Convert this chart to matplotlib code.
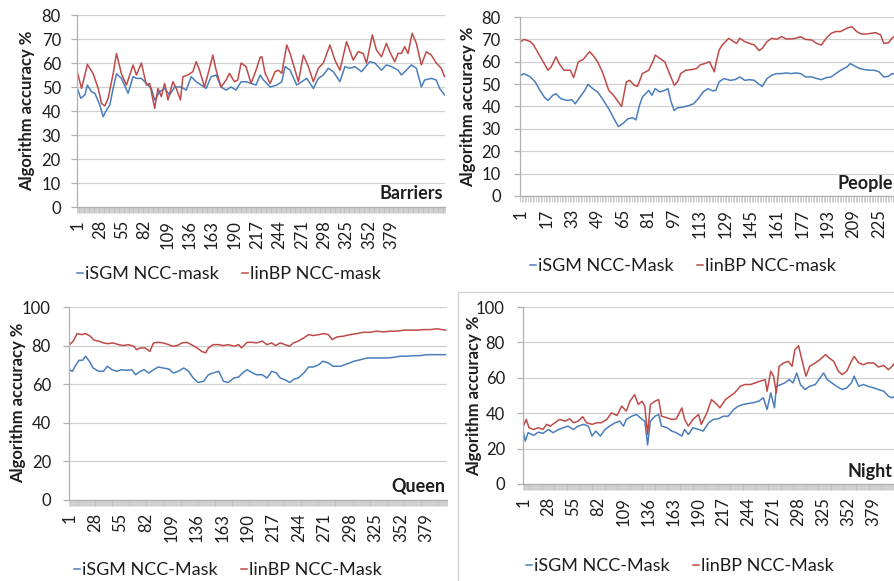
import matplotlib
matplotlib.use("Agg")
import numpy as np
import matplotlib.pyplot as plt
from matplotlib.lines import Line2D

plt.rcParams['font.family'] = ['Lato', 'DejaVu Sans']

# ==========================================================
# DATA  (frame index, algorithm accuracy %)
# ==========================================================
barriers_n = 443
barriers_isgm_f = [1, 5, 10, 13, 18, 22, 28, 32, 36, 40, 44, 48, 54, 62, 68, 72, 78, 84, 90, 94,
                   100, 106, 112, 118, 126, 132, 138, 144, 150, 156, 162, 168, 174, 180, 186, 192,
                   198, 204, 210, 216, 221, 225, 233, 241, 247, 251, 257, 265, 271, 277, 285, 291,
                   297, 303, 309, 317, 323, 329, 335, 343, 353, 359, 367, 373, 379, 387, 391, 397,
                   403, 409, 415, 419, 427, 433, 437, 443]
barriers_isgm = [49.4, 45.3, 46.7, 50.8, 48, 47.4, 42.5, 37.6, 40.4, 42.5, 49.4, 55.5, 53.6, 47.4,
                 54.3, 53.6, 53.6, 51.5, 49.4, 44.6, 48, 49.4, 46.7, 50, 50, 48.7, 54.3, 52.2, 50.8,
                 49.4, 54.3, 55, 50, 48.7, 50, 48.7, 52.2, 52.2, 51.5, 50.8, 55, 52.9, 50, 50.8,
                 52.2, 58.5, 57, 50.8, 52.2, 53.6, 49.4, 53.6, 55, 57.8, 56.4, 52.2, 58.5, 57.8,
                 58.5, 56.4, 60.6, 60, 57, 59.2, 58.5, 57, 55, 57, 59.2, 57.8, 50, 52.9, 53.6,
                 52.9, 49.4, 46.7]
barriers_linbp_f = [1, 6, 13, 20, 26, 30, 34, 38, 44, 48, 54, 60, 68, 72, 78, 84, 88, 94, 98, 102,
                    106, 110, 116, 120, 125, 128, 134, 140, 144, 148, 154, 160, 164, 168, 174, 180,
                    184, 190, 194, 198, 204, 210, 216, 221, 223, 227, 233, 239, 243, 247, 253, 257,
                    263, 267, 273, 279, 285, 291, 297, 305, 311, 317, 325, 333, 339, 345, 349, 356,
                    361, 367, 373, 377, 383, 387, 391, 395, 399, 404, 409, 415, 421, 427, 433, 439, 443]
barriers_linbp = [56, 49.4, 59.4, 55.5, 49.4, 43.2, 42.1, 45.3, 55.5, 64, 55.5, 50.8, 59.2, 55, 60,
                  50.8, 51.5, 41.1, 49.4, 46, 51.5, 44.6, 52.2, 49.4, 44.6, 54.3, 55, 56.4, 60.6,
                  57, 50, 57.8, 63.3, 57, 50, 52.9, 55.7, 52.2, 52.9, 60, 58.5, 51.5, 57, 62.4,
                  62.6, 55.7, 51.5, 56.4, 57, 55.7, 67.5, 64, 57, 52.2, 63.3, 58.5, 52.2, 57.8, 60,
                  67.5, 61.2, 57, 68.9, 61.2, 64.7, 64, 60, 71.7, 65.4, 62.6, 68.2, 64.7, 60.5, 64,
                  64, 66.8, 64, 72.4, 68.2, 59.2, 64.7, 63.3, 60, 57.8, 54.3]

people_n = 237
people_isgm_f = [1, 3, 7, 10, 13, 16, 18, 21, 23, 26, 30, 33, 35, 38, 41, 43, 46, 49, 52, 56, 59,
                 62, 65, 68, 71, 73, 75, 77, 81, 83, 85, 88, 91, 93, 95, 97, 99, 102, 106, 109,
                 112, 115, 118, 121, 123, 125, 128, 132, 135, 138, 141, 144, 147, 150, 152, 155,
                 158, 161, 164, 167, 170, 173, 176, 179, 183, 186, 189, 192, 195, 198, 201, 205,
                 207, 210, 213, 216, 219, 222, 225, 228, 231, 233, 235]
people_isgm = [54, 54.7, 53.2, 51, 47.2, 43.9, 42.7, 45, 45.7, 43.5, 42.7, 43, 41.2, 44.2, 47.2,
               49.9, 48, 46.5, 43.5, 39, 34.9, 31, 32.5, 34.5, 35, 34, 40, 44.2, 47.2, 45, 48,
               46.5, 47.2, 48, 42, 38.2, 39.4, 39.7, 40.4, 41.2, 43.5, 46.5, 48, 47, 47.2, 51,
               52.5, 51.7, 52, 53.2, 51.7, 52, 51.7, 49.9, 49, 52.5, 54, 54.7, 54.7, 55, 54.7, 55,
               54.7, 53.2, 53.2, 52.5, 52, 52.9, 53.2, 54.7, 56.2, 57.7, 59.2, 58, 57, 56.5, 56.2,
               56.2, 55.5, 53.2, 53.5, 54.7, 54.4]
people_linbp_f = [1, 3, 7, 9, 12, 15, 18, 20, 23, 25, 28, 32, 34, 37, 40, 44, 46, 49, 52, 56, 59,
                  62, 64, 67, 69, 72, 74, 77, 81, 84, 85, 88, 91, 94, 97, 99, 101, 104, 108, 111,
                  113, 116, 119, 122, 123, 125, 127, 131, 134, 136, 138, 141, 144, 147, 150, 152,
                  155, 158, 161, 164, 167, 170, 173, 176, 179, 183, 186, 189, 192, 195, 198, 201,
                  205, 208, 211, 214, 217, 220, 223, 226, 228, 231, 233, 235]
people_linbp = [69, 70, 69, 67.5, 63.7, 60, 56.2, 57.7, 62.2, 59.2, 56.2, 56.2, 52.9, 60, 61, 64.5,
                63, 60, 55.5, 47.2, 45, 42, 40, 51, 51.7, 49.5, 49, 54.7, 56.2, 60.7, 63, 61.5,
                60, 54.7, 49.5, 51, 54.7, 56.2, 56.5, 57, 58.5, 59.2, 60, 55.5, 59.2, 65.2, 67.5,
                70.5, 69, 68.2, 70.5, 69, 68.2, 67.5, 65, 66, 69, 70.5, 70, 71.2, 70.2, 70.2, 70.5,
                71.2, 70, 69.7, 68.2, 67.5, 70.5, 72.7, 73.5, 73.5, 75, 75.7, 73.5, 72.4, 72.4,
                72.7, 73, 72, 68.2, 68.5, 70.5, 71.5]

queen_n = 400
queen_isgm_f = [1, 4, 8, 11, 15, 18, 22, 26, 32, 37, 41, 46, 51, 56, 62, 67, 71, 76, 80, 85, 90,
                95, 100, 106, 111, 116, 122, 127, 132, 137, 143, 148, 153, 159, 164, 169, 175, 180,
                184, 189, 195, 199, 205, 210, 215, 220, 224, 229, 234, 239, 243, 249, 254, 259,
                265, 269, 275, 280, 288, 295, 302, 309, 316, 323, 330, 337, 344, 351, 358, 365,
                372, 379, 386, 393, 399]
queen_isgm = [67.5, 66.7, 70.1, 72.4, 72.4, 74.5, 71.9, 68.4, 66.7, 66.7, 69.3, 67.5, 66.7, 67.5,
              67.2, 67.5, 64.9, 66.7, 67.5, 65.8, 67.5, 68.9, 68.4, 67.9, 65.8, 66.7, 68.4, 66.7,
              63.2, 60.9, 61.5, 64.9, 65.8, 66.7, 61.5, 60.9, 63.2, 63.7, 65.8, 67.5, 65.8, 64.9,
              64.9, 63.2, 66.7, 65.8, 63.2, 62.3, 60.9, 62.7, 63.2, 65.8, 68.9, 68.9, 70.1, 71.9,
              71, 69.3, 69.3, 70.6, 71.9, 72.7, 73.6, 73.6, 73.6, 73.6, 73.9, 74.5, 74.5, 74.8,
              74.8, 75.3, 75.3, 75.3, 75.3]
queen_linbp_f = [1, 5, 9, 14, 18, 23, 27, 32, 37, 42, 47, 53, 58, 63, 69, 72, 76, 81, 86, 90, 95,
                 100, 106, 110, 115, 120, 125, 130, 136, 141, 145, 148, 153, 159, 164, 169, 175,
                 180, 183, 189, 194, 199, 205, 210, 215, 219, 224, 229, 234, 238, 243, 249, 254,
                 259, 265, 270, 275, 279, 284, 291, 298, 305, 312, 319, 326, 333, 341, 348, 355,
                 362, 369, 376, 383, 390, 399]
queen_linbp = [80.5, 82.3, 86.2, 85.7, 86.2, 84.9, 82.8, 82.3, 81.4, 81, 81.4, 80.5, 80, 80.5,
               79.7, 77.9, 78.8, 78.8, 77, 81.4, 81.7, 81.4, 80.5, 79.7, 80, 81.4, 81.7, 80.5,
               78.8, 77, 76.2, 78.8, 80.5, 80.5, 80, 80.5, 79.7, 80.5, 78.8, 81.7, 81.7, 81.4,
               82.3, 80.5, 81.4, 80, 81.4, 80.5, 79.7, 81.4, 82.3, 84, 85.7, 85.2, 85.7, 86.2,
               85.7, 83.1, 84.5, 84.9, 85.7, 86.2, 86.9, 86.9, 87.5, 87.1, 87.5, 87.5, 88, 88, 88,
               88.3, 88.3, 88.7, 88]

night_n = 407
night_isgm_f = [1, 3, 6, 12, 17, 22, 28, 33, 39, 44, 49, 55, 60, 66, 71, 75, 79, 84, 89, 94, 100,
                105, 109, 112, 118, 123, 129, 132, 135, 138, 143, 147, 150, 156, 161, 166, 172,
                175, 179, 184, 190, 195, 201, 206, 211, 217, 222, 228, 233, 238, 244, 249, 255,
                260, 264, 268, 272, 274, 279, 283, 288, 292, 296, 300, 305, 310, 316, 320, 325,
                329, 334, 339, 345, 350, 355, 358, 363, 368, 373, 379, 384, 390, 395, 399, 402]
night_isgm = [29, 24.3, 29, 27.5, 29.3, 28.6, 30.8, 29, 30.8, 31.8, 32.7, 30.8, 32.7, 33.7, 32.7,
              27.1, 29.9, 27.1, 30.8, 32.7, 34.6, 35.5, 32.7, 36.5, 38.3, 39.3, 36.5, 35.5, 22,
              35.5, 38.3, 39.3, 32.7, 31.8, 29.9, 29, 27.1, 30.8, 28, 31.8, 30.8, 29.9, 34.6,
              36.5, 36.8, 38.3, 38.3, 42.1, 44, 44.9, 45.5, 45.9, 46.8, 48.7, 42.1, 51.5, 43,
              55.2, 56.2, 57.1, 59, 57.1, 62.7, 56.2, 53.4, 55.2, 56.2, 59, 62.7, 59, 57.1, 55.2,
              53.4, 54.3, 57.1, 60.9, 55.2, 56.2, 55.2, 54.3, 53.4, 52.4, 49.6, 48.7, 49.6]
night_linbp_f = [1, 4, 7, 12, 17, 22, 26, 30, 35, 40, 46, 51, 55, 60, 65, 69, 75, 80, 85, 91, 96,
                 102, 107, 112, 116, 121, 125, 129, 132, 135, 138, 143, 147, 150, 156, 161, 166,
                 172, 175, 179, 184, 190, 193, 199, 204, 210, 213, 219, 224, 229, 235, 240, 246,
                 251, 256, 262, 264, 268, 271, 274, 277, 282, 287, 291, 294, 298, 302, 306, 310,
                 316, 321, 327, 331, 336, 341, 345, 350, 355, 358, 363, 368, 373, 379, 384, 390,
                 395, 399, 402]
night_linbp = [32.7, 36.5, 31.8, 30.8, 31.8, 30.8, 33.7, 32.7, 34.6, 36.5, 35.5, 36.8, 34.6, 35.5,
               38, 34.6, 33.7, 34.6, 34.6, 36.5, 40.2, 38.7, 44, 41.2, 46.8, 50.5, 44.9, 46.8, 44,
               28, 44.9, 46.8, 47.7, 38.3, 37.4, 36.5, 36.8, 43, 36.5, 32.7, 36.5, 39.3, 33.7,
               40.2, 47.7, 44.9, 43, 47.7, 49.6, 51.5, 55.2, 56.2, 56.2, 57.1, 58, 59, 52.4, 63.7,
               60.9, 51.5, 66.5, 68.4, 69.3, 66.5, 75.9, 78.1, 69.3, 60.9, 66.5, 68.4, 70.2, 73.1,
               71.2, 69.3, 63.7, 61.8, 63.7, 69.3, 72.1, 68.4, 67.4, 68.4, 68.4, 66.1, 66.9, 64.6,
               66.5, 68.4]

ticks_27 = [1, 28, 55, 82, 109, 136, 163, 190, 217, 244, 271, 298, 325, 352, 379]
ticks_16 = [1, 17, 33, 49, 65, 81, 97, 113, 129, 145, 161, 177, 193, 209, 225]

# ==========================================================
# STYLE
# ==========================================================
W, H = 895, 581
BLUE = '#4a7ebb'
RED = '#be4b48'
GRID = '#d0d0d0'
AXIS = '#b0b0b0'
TXT = '#1e1e1e'


def rect(l, t, r, b):
    # pixel box (left, top, right, bottom) -> figure fraction
    return [l / W, 1 - b / H, (r - l) / W, (b - t) / H]


def draw_panel(box, n, ymax, ystep, xticks, isgm, linbp, title, labels,
               ylabel_xy, legend_xy, ypad):
    ax = fig.add_axes(rect(*box))
    ax.plot(isgm[0], isgm[1], color=BLUE, lw=1.1)
    ax.plot(linbp[0], linbp[1], color=RED, lw=1.1)
    ax.set_xlim(0.5, n + 0.5)
    ax.set_ylim(0, ymax)
    ax.set_yticks(np.arange(0, ymax + 1, ystep))
    ax.yaxis.grid(True, color=GRID, lw=0.9)
    ax.set_axisbelow(True)
    for s in ['top', 'right']:
        ax.spines[s].set_visible(False)
    for s in ['left', 'bottom']:
        ax.spines[s].set_color(AXIS)
        ax.spines[s].set_linewidth(0.9)

    # category axis: label every k-th frame, tick mark at every boundary
    ax.set_xticks(xticks)
    ax.set_xticklabels([str(t) for t in xticks], rotation=90)
    ax.set_xticks(np.arange(0.5, n + 1, 1), minor=True)
    ax.tick_params(axis='x', which='major', length=0, pad=9.4, labelsize=12, labelcolor=TXT)
    ax.tick_params(axis='x', which='minor', length=4.4, width=0.5, color='#bcbcbc')
    ax.tick_params(axis='y', length=4.4, width=0.9, color=AXIS, pad=ypad,
                   labelsize=12, labelcolor=TXT)

    # series name in the lower right corner, kept inside the figure
    title_x = min(box[2] - 2, W - 2)
    fig.text(title_x / W, 1 - (box[3] - 0.072 * (box[3] - box[1])) / H, title,
             ha='right', va='center', fontsize=13, fontweight='bold', color=TXT)

    fig.text(ylabel_xy[0] / W, 1 - ylabel_xy[1] / H, 'Algorithm accuracy %',
             rotation=90, ha='center', va='center', fontsize=12,
             fontweight='bold', color=TXT)

    handles = [Line2D([], [], color=BLUE, lw=1.1), Line2D([], [], color=RED, lw=1.1)]
    fig.legend(handles, labels, loc='center', ncol=2, frameon=False,
               bbox_to_anchor=(legend_xy[0] / W, 1 - legend_xy[1] / H),
               bbox_transform=fig.transFigure, fontsize=13, handlelength=0.35,
               handletextpad=0.1, columnspacing=1.3, labelcolor=TXT)
    return ax


fig = plt.figure(figsize=(W / 100, H / 100), dpi=100)

draw_panel((77, 15, 445, 207), barriers_n, 80, 10, ticks_27,
           (barriers_isgm_f, barriers_isgm), (barriers_linbp_f, barriers_linbp),
           'Barriers', ['iSGM NCC-mask', 'linBP NCC-mask'], (27, 111), (229, 274), 7.2)

draw_panel((520, 17, 899, 196), people_n, 80, 10, ticks_16,
           (people_isgm_f, people_isgm), (people_linbp_f, people_linbp),
           'People', ['iSGM NCC-Mask', 'linBP NCC-mask'], (468, 106.5), (683, 266), 9.4)

draw_panel((69, 307, 447, 500), queen_n, 100, 20, ticks_27,
           (queen_isgm_f, queen_isgm), (queen_linbp_f, queen_linbp),
           'Queen', ['iSGM NCC-Mask', 'linBP NCC-Mask'], (18, 403), (228, 570), 8.6)

draw_panel((523, 307, 900, 484), night_n, 100, 20, ticks_27,
           (night_isgm_f, night_isgm), (night_linbp_f, night_linbp),
           'Night', ['iSGM NCC-Mask', 'linBP NCC-Mask'], (474, 395.5), (680, 566), 8.6)

# thin frame around the Night chart
fig.add_artist(Line2D([458 / W, 458 / W], [1 - 292 / H, 0], transform=fig.transFigure,
                      color='#d4d4d4', lw=1))
fig.add_artist(Line2D([458 / W, 1], [1 - 292 / H, 1 - 292 / H], transform=fig.transFigure,
                      color='#d4d4d4', lw=1))

fig.savefig('out.png', dpi=100)
